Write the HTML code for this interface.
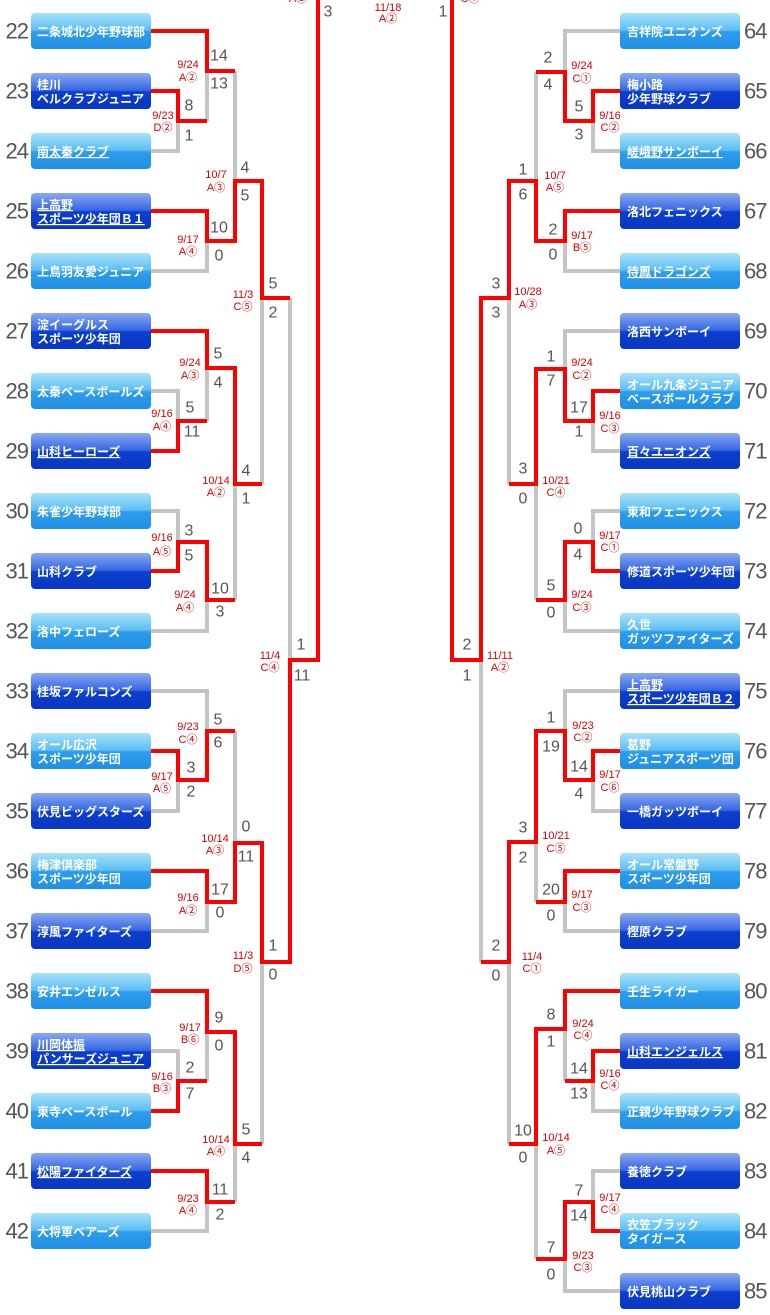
<!DOCTYPE html>
<html><head><meta charset="utf-8"><style>
html,body{margin:0;padding:0;background:#fff;}
svg{display:block;}
.n{font-family:"Liberation Sans","Noto Sans CJK JP",sans-serif;font-size:12px;font-weight:bold;fill:#fff;}
.s{font-family:"Liberation Sans",sans-serif;font-size:16px;fill:#555;text-anchor:middle;dominant-baseline:central;}
.d{font-family:"Liberation Sans","Noto Sans CJK JP",sans-serif;font-size:11px;fill:#d00;text-anchor:middle;dominant-baseline:central;}
.k{font-family:"Liberation Sans",sans-serif;font-size:22px;fill:#555;dominant-baseline:central;letter-spacing:-1px;}
.g{fill:none;stroke:#c4c4c4;stroke-width:4;}
.r{fill:none;stroke:#f00;stroke-width:4;}
</style></head><body>
<svg width="770" height="1315" xmlns="http://www.w3.org/2000/svg">
<defs>
<linearGradient id="L" x1="0" y1="0" x2="0" y2="1"><stop offset="0" stop-color="#a8e2fb"/><stop offset="0.48" stop-color="#5cbdf3"/><stop offset="0.52" stop-color="#2e9ded"/><stop offset="1" stop-color="#1f8fe3"/></linearGradient>
<linearGradient id="D" x1="0" y1="0" x2="0" y2="1"><stop offset="0" stop-color="#8aaaf2"/><stop offset="0.48" stop-color="#3566e2"/><stop offset="0.52" stop-color="#0b3fd0"/><stop offset="1" stop-color="#0a36c0"/></linearGradient>
</defs>
<g class="g">
<polyline points="151,151 178,151 178,121"/><polyline points="207,121 207,71"/><polyline points="151,271 207,271 207,241"/><polyline points="235,71 235,181"/><polyline points="262,298 262,484"/><polyline points="151,391 178,391 178,421"/><polyline points="207,368 207,421"/><polyline points="151,511 178,511 178,542"/><polyline points="151,631 207,631 207,600"/><polyline points="235,484 235,600"/><polyline points="290,298 290,660"/><polyline points="151,691 207,691 207,731"/><polyline points="151,811 178,811 178,780"/><polyline points="235,731 235,843"/><polyline points="151,931 207,931 207,902"/><polyline points="262,962 262,1144"/><polyline points="151,1051 178,1051 178,1081"/><polyline points="207,1032 207,1081"/><polyline points="151,1231 207,1231 207,1202"/><polyline points="235,1144 235,1202"/>
<polyline points="620,31 565,31 565,72"/><polyline points="620,151 593,151 593,121"/><polyline points="536,72 536,181"/><polyline points="620,271 565,271 565,241"/><polyline points="509,298 509,484"/><polyline points="481,660 481,962"/><polyline points="620,331 565,331 565,369"/><polyline points="620,451 593,451 593,421"/><polyline points="620,511 593,511 593,542"/><polyline points="620,631 565,631 565,600"/><polyline points="536,484 536,600"/><polyline points="620,691 565,691 565,731"/><polyline points="620,811 593,811 593,780"/><polyline points="536,842 536,902"/><polyline points="620,931 565,931 565,902"/><polyline points="509,962 509,1144"/><polyline points="565,1029 565,1081"/><polyline points="620,1111 593,1111 593,1081"/><polyline points="536,1144 536,1259"/><polyline points="620,1171 593,1171 593,1202"/><polyline points="620,1291 565,1291 565,1259"/>
</g>
<g class="r">
<polyline points="151,31 207,31 207,71 235,71"/><polyline points="151,91 178,91 178,121 207,121"/><polyline points="151,211 207,211 207,241 235,241 235,181 262,181 262,298 290,298"/><polyline points="151,331 207,331 207,368 235,368 235,484 262,484"/><polyline points="151,451 178,451 178,421 207,421"/><polyline points="151,571 178,571 178,542 207,542 207,600 235,600"/><polyline points="151,751 178,751 178,780 207,780 207,731 235,731"/><polyline points="151,871 207,871 207,902 235,902 235,843 262,843 262,962 290,962 290,660 318,660 318,-5"/><polyline points="151,991 207,991 207,1032 235,1032 235,1144 262,1144"/><polyline points="151,1111 178,1111 178,1081 207,1081"/><polyline points="151,1171 207,1171 207,1202 235,1202"/>
<polyline points="620,91 593,91 593,121 565,121 565,72 536,72"/><polyline points="620,211 565,211 565,241 536,241 536,181 509,181 509,298 481,298 481,660 452,660 452,-5"/><polyline points="620,391 593,391 593,421 565,421 565,369 536,369 536,484 509,484"/><polyline points="620,571 593,571 593,542 565,542 565,600 536,600"/><polyline points="620,751 593,751 593,780 565,780 565,731 536,731 536,842 509,842 509,962 481,962"/><polyline points="620,871 565,871 565,902 536,902"/><polyline points="620,991 565,991 565,1029 536,1029 536,1144 509,1144"/><polyline points="620,1051 593,1051 593,1081 565,1081"/><polyline points="620,1231 593,1231 593,1202 565,1202 565,1259 536,1259"/>
</g>
<g>
<rect x="31" y="13" width="120" height="36" rx="4" fill="url(#L)"/><text class="n" x="37" y="36">二条城北少年野球部</text>
<rect x="31" y="73" width="120" height="36" rx="4" fill="url(#D)"/><text class="n" x="37" y="89">桂川</text><text class="n" x="37" y="103">ベルクラブジュニア</text>
<rect x="31" y="133" width="120" height="36" rx="4" fill="url(#L)"/><text class="n" x="37" y="156" text-decoration="underline">南太秦クラブ</text>
<rect x="31" y="193" width="120" height="36" rx="4" fill="url(#D)"/><text class="n" x="37" y="209" text-decoration="underline">上高野</text><text class="n" x="37" y="223" text-decoration="underline">スポーツ少年団Ｂ１</text>
<rect x="31" y="253" width="120" height="36" rx="4" fill="url(#L)"/><text class="n" x="37" y="276">上鳥羽友愛ジュニア</text>
<rect x="31" y="313" width="120" height="36" rx="4" fill="url(#D)"/><text class="n" x="37" y="329">淀イーグルス</text><text class="n" x="37" y="343">スポーツ少年団</text>
<rect x="31" y="373" width="120" height="36" rx="4" fill="url(#L)"/><text class="n" x="37" y="396">太秦ベースボールズ</text>
<rect x="31" y="433" width="120" height="36" rx="4" fill="url(#D)"/><text class="n" x="37" y="456" text-decoration="underline">山科ヒーローズ</text>
<rect x="31" y="493" width="120" height="36" rx="4" fill="url(#L)"/><text class="n" x="37" y="516">朱雀少年野球部</text>
<rect x="31" y="553" width="120" height="36" rx="4" fill="url(#D)"/><text class="n" x="37" y="576">山科クラブ</text>
<rect x="31" y="613" width="120" height="36" rx="4" fill="url(#L)"/><text class="n" x="37" y="636">洛中フェローズ</text>
<rect x="31" y="673" width="120" height="36" rx="4" fill="url(#D)"/><text class="n" x="37" y="696">桂坂ファルコンズ</text>
<rect x="31" y="733" width="120" height="36" rx="4" fill="url(#L)"/><text class="n" x="37" y="749">オール広沢</text><text class="n" x="37" y="763">スポーツ少年団</text>
<rect x="31" y="793" width="120" height="36" rx="4" fill="url(#D)"/><text class="n" x="37" y="816">伏見ビッグスターズ</text>
<rect x="31" y="853" width="120" height="36" rx="4" fill="url(#L)"/><text class="n" x="37" y="869">梅津倶楽部</text><text class="n" x="37" y="883">スポーツ少年団</text>
<rect x="31" y="913" width="120" height="36" rx="4" fill="url(#D)"/><text class="n" x="37" y="936">淳風ファイターズ</text>
<rect x="31" y="973" width="120" height="36" rx="4" fill="url(#L)"/><text class="n" x="37" y="996">安井エンゼルス</text>
<rect x="31" y="1033" width="120" height="36" rx="4" fill="url(#D)"/><text class="n" x="37" y="1049" text-decoration="underline">川岡体振</text><text class="n" x="37" y="1063" text-decoration="underline">パンサーズジュニア</text>
<rect x="31" y="1093" width="120" height="36" rx="4" fill="url(#L)"/><text class="n" x="37" y="1116">東寺ベースボール</text>
<rect x="31" y="1153" width="120" height="36" rx="4" fill="url(#D)"/><text class="n" x="37" y="1176" text-decoration="underline">松陽ファイターズ</text>
<rect x="31" y="1213" width="120" height="36" rx="4" fill="url(#L)"/><text class="n" x="37" y="1236">大将軍ベアーズ</text>
</g>
<g>
<rect x="620" y="13" width="120" height="36" rx="4" fill="url(#L)"/><text class="n" x="627" y="36">吉祥院ユニオンズ</text>
<rect x="620" y="73" width="120" height="36" rx="4" fill="url(#D)"/><text class="n" x="627" y="89">梅小路</text><text class="n" x="627" y="103">少年野球クラブ</text>
<rect x="620" y="133" width="120" height="36" rx="4" fill="url(#L)"/><text class="n" x="627" y="156" text-decoration="underline">嵯峨野サンボーイ</text>
<rect x="620" y="193" width="120" height="36" rx="4" fill="url(#D)"/><text class="n" x="627" y="216">洛北フェニックス</text>
<rect x="620" y="253" width="120" height="36" rx="4" fill="url(#L)"/><text class="n" x="627" y="276" text-decoration="underline">待鳳ドラゴンズ</text>
<rect x="620" y="313" width="120" height="36" rx="4" fill="url(#D)"/><text class="n" x="627" y="336">洛西サンボーイ</text>
<rect x="620" y="373" width="120" height="36" rx="4" fill="url(#L)"/><text class="n" x="627" y="389">オール九条ジュニア</text><text class="n" x="627" y="403">ベースボールクラブ</text>
<rect x="620" y="433" width="120" height="36" rx="4" fill="url(#D)"/><text class="n" x="627" y="456" text-decoration="underline">百々ユニオンズ</text>
<rect x="620" y="493" width="120" height="36" rx="4" fill="url(#L)"/><text class="n" x="627" y="516">東和フェニックス</text>
<rect x="620" y="553" width="120" height="36" rx="4" fill="url(#D)"/><text class="n" x="627" y="576">修道スポーツ少年団</text>
<rect x="620" y="613" width="120" height="36" rx="4" fill="url(#L)"/><text class="n" x="627" y="629">久世</text><text class="n" x="627" y="643">ガッツファイターズ</text>
<rect x="620" y="673" width="120" height="36" rx="4" fill="url(#D)"/><text class="n" x="627" y="689" text-decoration="underline">上高野</text><text class="n" x="627" y="703" text-decoration="underline">スポーツ少年団Ｂ２</text>
<rect x="620" y="733" width="120" height="36" rx="4" fill="url(#L)"/><text class="n" x="627" y="749">葛野</text><text class="n" x="627" y="763">ジュニアスポーツ団</text>
<rect x="620" y="793" width="120" height="36" rx="4" fill="url(#D)"/><text class="n" x="627" y="816">一橋ガッツボーイ</text>
<rect x="620" y="853" width="120" height="36" rx="4" fill="url(#L)"/><text class="n" x="627" y="869">オール常盤野</text><text class="n" x="627" y="883">スポーツ少年団</text>
<rect x="620" y="913" width="120" height="36" rx="4" fill="url(#D)"/><text class="n" x="627" y="936">樫原クラブ</text>
<rect x="620" y="973" width="120" height="36" rx="4" fill="url(#L)"/><text class="n" x="627" y="996">壬生ライガー</text>
<rect x="620" y="1033" width="120" height="36" rx="4" fill="url(#D)"/><text class="n" x="627" y="1056" text-decoration="underline">山科エンジェルス</text>
<rect x="620" y="1093" width="120" height="36" rx="4" fill="url(#L)"/><text class="n" x="627" y="1116">正親少年野球クラブ</text>
<rect x="620" y="1153" width="120" height="36" rx="4" fill="url(#D)"/><text class="n" x="627" y="1176">養徳クラブ</text>
<rect x="620" y="1213" width="120" height="36" rx="4" fill="url(#L)"/><text class="n" x="627" y="1229">衣笠ブラック</text><text class="n" x="627" y="1243">タイガース</text>
<rect x="620" y="1273" width="120" height="36" rx="4" fill="url(#D)"/><text class="n" x="627" y="1296">伏見桃山クラブ</text>
</g>
<g class="k" text-anchor="end">
<text x="28" y="31">22</text><text x="28" y="91">23</text><text x="28" y="151">24</text><text x="28" y="211">25</text><text x="28" y="271">26</text><text x="28" y="331">27</text><text x="28" y="391">28</text><text x="28" y="451">29</text><text x="28" y="511">30</text><text x="28" y="571">31</text><text x="28" y="631">32</text><text x="28" y="691">33</text><text x="28" y="751">34</text><text x="28" y="811">35</text><text x="28" y="871">36</text><text x="28" y="931">37</text><text x="28" y="991">38</text><text x="28" y="1051">39</text><text x="28" y="1111">40</text><text x="28" y="1171">41</text><text x="28" y="1231">42</text>
</g>
<g class="k" text-anchor="start">
<text x="744" y="31">64</text><text x="744" y="91">65</text><text x="744" y="151">66</text><text x="744" y="211">67</text><text x="744" y="271">68</text><text x="744" y="331">69</text><text x="744" y="391">70</text><text x="744" y="451">71</text><text x="744" y="511">72</text><text x="744" y="571">73</text><text x="744" y="631">74</text><text x="744" y="691">75</text><text x="744" y="751">76</text><text x="744" y="811">77</text><text x="744" y="871">78</text><text x="744" y="931">79</text><text x="744" y="991">80</text><text x="744" y="1051">81</text><text x="744" y="1111">82</text><text x="744" y="1171">83</text><text x="744" y="1231">84</text><text x="744" y="1291">85</text>
</g>
<g class="s">
<text x="219" y="56">14</text><text x="219" y="84">13</text><text x="189" y="106">8</text><text x="189" y="136">1</text>
<text x="219" y="228">10</text><text x="219" y="256">0</text><text x="245" y="168">4</text><text x="245" y="196">5</text>
<text x="273" y="284">5</text><text x="273" y="313">2</text>
<text x="218" y="354">5</text><text x="218" y="383">4</text><text x="190" y="408">5</text><text x="192" y="432">11</text>
<text x="246" y="471">4</text><text x="246" y="499">1</text><text x="189" y="531">3</text><text x="189" y="556">5</text>
<text x="220" y="589">10</text><text x="220" y="612">3</text>
<text x="301" y="645">1</text><text x="302" y="676">11</text>
<text x="218" y="720">5</text><text x="218" y="743">6</text><text x="191" y="768">3</text><text x="191" y="792">2</text>
<text x="246" y="827">0</text><text x="246" y="857">11</text><text x="220" y="890">17</text><text x="220" y="913">0</text>
<text x="273" y="946">1</text><text x="273" y="975">0</text>
<text x="219" y="1018">9</text><text x="219" y="1046">0</text><text x="190" y="1068">2</text><text x="190" y="1094">7</text>
<text x="246" y="1130">5</text><text x="246" y="1158">4</text><text x="220" y="1190">11</text><text x="220" y="1215">2</text>
<text x="328" y="12">3</text><text x="443" y="12">1</text>
<text x="548" y="58">2</text><text x="548" y="85">4</text><text x="579" y="107">5</text><text x="579" y="135">3</text>
<text x="553" y="230">2</text><text x="553" y="255">0</text><text x="523" y="170">1</text><text x="523" y="195">6</text>
<text x="496" y="284">3</text><text x="496" y="313">3</text>
<text x="467" y="645">2</text><text x="467" y="676">1</text>
<text x="551" y="357">1</text><text x="551" y="381">7</text><text x="579" y="408">17</text><text x="579" y="432">1</text>
<text x="523" y="469">3</text><text x="523" y="499">0</text><text x="578" y="529">0</text><text x="578" y="555">4</text>
<text x="551" y="586">5</text><text x="551" y="613">0</text>
<text x="551" y="718">1</text><text x="551" y="747">19</text><text x="579" y="767">14</text><text x="579" y="794">4</text>
<text x="523" y="828">3</text><text x="523" y="858">2</text><text x="551" y="890">20</text><text x="551" y="916">0</text>
<text x="496" y="946">2</text><text x="496" y="976">0</text>
<text x="551" y="1015">8</text><text x="551" y="1042">1</text><text x="579" y="1069">14</text><text x="579" y="1094">13</text>
<text x="523" y="1131">10</text><text x="523" y="1158">0</text><text x="579" y="1191">7</text><text x="579" y="1216">14</text>
<text x="551" y="1248">7</text><text x="551" y="1275">0</text>
</g>
<g class="d">
<text x="298" y="-1">A③</text><text x="388" y="8">11/18</text><text x="388" y="19">A②</text><text x="470" y="-1">C④</text>
<text x="163" y="116">9/23</text><text x="163" y="128">D②</text>
<text x="188" y="65">9/24</text><text x="188" y="78">A②</text>
<text x="188" y="240">9/17</text><text x="188" y="252">A④</text>
<text x="216" y="175">10/7</text><text x="216" y="188">A③</text>
<text x="243" y="295">11/3</text><text x="243" y="307">C⑤</text>
<text x="190" y="363">9/24</text><text x="190" y="376">A③</text>
<text x="162" y="414">9/16</text><text x="162" y="427">A④</text>
<text x="216" y="481">10/14</text><text x="216" y="493">A②</text>
<text x="162" y="538">9/16</text><text x="162" y="552">A⑤</text>
<text x="185" y="595">9/24</text><text x="185" y="608">A④</text>
<text x="270" y="656">11/4</text><text x="270" y="668">C④</text>
<text x="188" y="727">9/23</text><text x="188" y="740">C④</text>
<text x="162" y="777">9/17</text><text x="162" y="789">A⑤</text>
<text x="215" y="839">10/14</text><text x="215" y="851">A③</text>
<text x="188" y="898">9/16</text><text x="188" y="911">A②</text>
<text x="243" y="956">11/3</text><text x="243" y="969">D⑤</text>
<text x="190" y="1028">9/17</text><text x="190" y="1040">B⑥</text>
<text x="162" y="1077">9/16</text><text x="162" y="1089">B③</text>
<text x="216" y="1140">10/14</text><text x="216" y="1152">A④</text>
<text x="188" y="1199">9/23</text><text x="188" y="1211">A④</text>
<text x="582" y="66">9/24</text><text x="582" y="79">C①</text>
<text x="610" y="116">9/16</text><text x="610" y="128">C②</text>
<text x="555" y="176">10/7</text><text x="555" y="188">A⑤</text>
<text x="582" y="236">9/17</text><text x="582" y="248">B⑤</text>
<text x="528" y="292">10/28</text><text x="528" y="305">A③</text>
<text x="500" y="656">11/11</text><text x="500" y="668">A②</text>
<text x="582" y="363">9/24</text><text x="582" y="376">C②</text>
<text x="610" y="416">9/16</text><text x="610" y="429">C③</text>
<text x="556" y="481">10/21</text><text x="556" y="493">C④</text>
<text x="610" y="536">9/17</text><text x="610" y="548">C①</text>
<text x="582" y="595">9/24</text><text x="582" y="608">C③</text>
<text x="583" y="726">9/23</text><text x="583" y="738">C②</text>
<text x="610" y="775">9/17</text><text x="610" y="788">C⑥</text>
<text x="556" y="836">10/21</text><text x="556" y="849">C⑤</text>
<text x="582" y="895">9/17</text><text x="582" y="908">C③</text>
<text x="532" y="957">11/4</text><text x="532" y="969">C①</text>
<text x="583" y="1024">9/24</text><text x="583" y="1036">C④</text>
<text x="610" y="1074">9/16</text><text x="610" y="1086">C④</text>
<text x="556" y="1138">10/14</text><text x="556" y="1151">A⑤</text>
<text x="610" y="1198">9/17</text><text x="610" y="1210">C④</text>
<text x="583" y="1256">9/23</text><text x="583" y="1268">C③</text>
</g>
</svg>
</body></html>
